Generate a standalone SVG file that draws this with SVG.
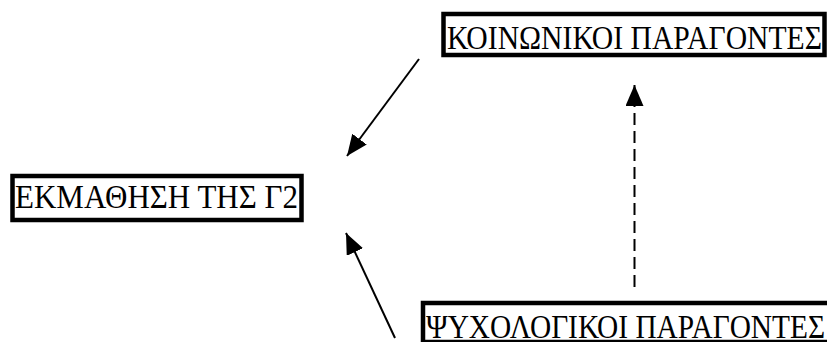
<svg xmlns="http://www.w3.org/2000/svg" width="827" height="342" viewBox="0 0 827 342">
<style>
.box{fill:#fff;stroke:#000;stroke-width:4.5}
.lbl{font-family:"Liberation Serif","Times New Roman",serif;font-size:33px;fill:#000}
.ln{stroke:#000;stroke-width:2;fill:none}
</style>
<defs>
<marker id="ah" markerUnits="userSpaceOnUse" markerWidth="22" markerHeight="20" refX="21" refY="9" orient="auto">
<path d="M0,0 L21,9 L0,18 Z" fill="#000"/>
</marker>
</defs>
<rect width="827" height="342" fill="#fff"/>
<g id="connectors">
<line class="ln" x1="419" y1="59" x2="347" y2="156" marker-end="url(#ah)"/>
<line class="ln" x1="395" y1="338" x2="346" y2="233" marker-end="url(#ah)"/>
<line class="ln" x1="634.5" y1="287" x2="634.5" y2="85" stroke-dasharray="12 6" marker-end="url(#ah)"/>
</g>
<g id="node-koinonikoi">
<rect class="box" x="443.5" y="14" width="381" height="41"/>
<text class="lbl" x="447" y="49" textLength="375" lengthAdjust="spacingAndGlyphs">ΚΟΙΝΩΝΙΚΟΙ ΠΑΡΑΓΟΝΤΕΣ</text>
</g>
<g id="node-ekmathisi">
<rect class="box" x="12.5" y="176" width="289" height="44"/>
<text class="lbl" x="15" y="208" textLength="283" lengthAdjust="spacingAndGlyphs">ΕΚΜΑΘΗΣΗ ΤΗΣ Γ2</text>
</g>
<g id="node-psychologikoi">
<rect class="box" x="423" y="303" width="420" height="39"/>
<text class="lbl" x="426" y="338" textLength="399" lengthAdjust="spacingAndGlyphs">ΨΥΧΟΛΟΓΙΚΟΙ ΠΑΡΑΓΟΝΤΕΣ</text>
</g>
</svg>
